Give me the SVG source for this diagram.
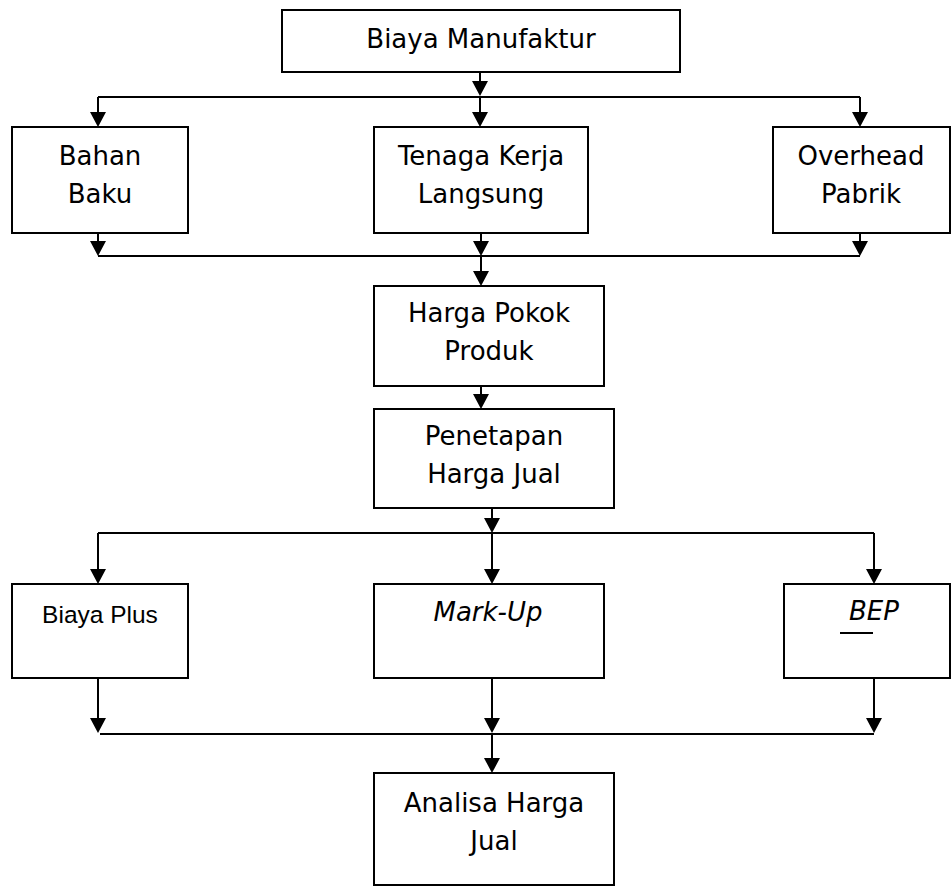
<svg xmlns="http://www.w3.org/2000/svg" width="952" height="891" viewBox="0 0 952 891">
<style>
.box{fill:#fff;stroke:#000;stroke-width:2}
.t{font-family:"DejaVu Sans",Verdana,sans-serif;font-size:26px;fill:#000;text-anchor:middle}
.c{font-family:"Liberation Sans",Arial,sans-serif;font-size:24.5px;fill:#000;text-anchor:middle}
.i{font-style:italic}
.ln{stroke:#000;stroke-width:2;fill:none}
.hd{fill:#000}
</style>
<g id="connectors">
<line class="ln" x1="480" y1="72" x2="480" y2="82"/>
<path class="hd" d="M472,81 L488,81 L480,96 Z"/>
<line class="ln" x1="98" y1="97" x2="860" y2="97"/>
<line class="ln" x1="480" y1="97" x2="480" y2="113"/>
<path class="hd" d="M472,112 L488,112 L480,127 Z"/>
<line class="ln" x1="98" y1="97" x2="98" y2="113"/>
<path class="hd" d="M90,112 L106,112 L98,127 Z"/>
<line class="ln" x1="860" y1="97" x2="860" y2="113"/>
<path class="hd" d="M852,112 L868,112 L860,127 Z"/>
<line class="ln" x1="98" y1="233" x2="98" y2="242"/>
<path class="hd" d="M90,241 L106,241 L98,256 Z"/>
<line class="ln" x1="481" y1="233" x2="481" y2="242"/>
<path class="hd" d="M473,241 L489,241 L481,256 Z"/>
<line class="ln" x1="860" y1="233" x2="860" y2="242"/>
<path class="hd" d="M852,241 L868,241 L860,256 Z"/>
<line class="ln" x1="98" y1="256" x2="860" y2="256"/>
<line class="ln" x1="481" y1="256" x2="481" y2="272"/>
<path class="hd" d="M473,271 L489,271 L481,286 Z"/>
<line class="ln" x1="481" y1="386" x2="481" y2="395"/>
<path class="hd" d="M473,394 L489,394 L481,409 Z"/>
<line class="ln" x1="492" y1="508" x2="492" y2="519"/>
<path class="hd" d="M484,518 L500,518 L492,533 Z"/>
<line class="ln" x1="98" y1="533" x2="874" y2="533"/>
<line class="ln" x1="98" y1="533" x2="98" y2="570"/>
<path class="hd" d="M90,569 L106,569 L98,584 Z"/>
<line class="ln" x1="492" y1="533" x2="492" y2="570"/>
<path class="hd" d="M484,569 L500,569 L492,584 Z"/>
<line class="ln" x1="874" y1="533" x2="874" y2="570"/>
<path class="hd" d="M866,569 L882,569 L874,584 Z"/>
<line class="ln" x1="98" y1="678" x2="98" y2="719"/>
<path class="hd" d="M90,718 L106,718 L98,733 Z"/>
<line class="ln" x1="492" y1="678" x2="492" y2="719"/>
<path class="hd" d="M484,718 L500,718 L492,733 Z"/>
<line class="ln" x1="874" y1="678" x2="874" y2="719"/>
<path class="hd" d="M866,718 L882,718 L874,733 Z"/>
<line class="ln" x1="100" y1="734" x2="874" y2="734"/>
<line class="ln" x1="492" y1="734" x2="492" y2="759"/>
<path class="hd" d="M484,758 L500,758 L492,773 Z"/>
</g>
<g id="biaya-manufaktur">
<rect class="box" x="282" y="10" width="398" height="62"/>
<text class="t" x="481" y="48">Biaya Manufaktur</text>
</g>
<g id="bahan-baku">
<rect class="box" x="12" y="127" width="176" height="106"/>
<text class="t" x="100" y="165">Bahan</text>
<text class="t" x="100" y="203">Baku</text>
</g>
<g id="tenaga-kerja">
<rect class="box" x="374" y="127" width="214" height="106"/>
<text class="t" x="481" y="165">Tenaga Kerja</text>
<text class="t" x="481" y="203">Langsung</text>
</g>
<g id="overhead-pabrik">
<rect class="box" x="773" y="127" width="177" height="106"/>
<text class="t" x="861" y="165">Overhead</text>
<text class="t" x="861" y="203">Pabrik</text>
</g>
<g id="harga-pokok">
<rect class="box" x="374" y="286" width="230" height="100"/>
<text class="t" x="489" y="322">Harga Pokok</text>
<text class="t" x="489" y="360">Produk</text>
</g>
<g id="penetapan">
<rect class="box" x="374" y="409" width="240" height="99"/>
<text class="t" x="494" y="445">Penetapan</text>
<text class="t" x="494" y="483">Harga Jual</text>
</g>
<g id="biaya-plus">
<rect class="box" x="12" y="584" width="176" height="94"/>
<text class="c" x="100" y="623">Biaya Plus</text>
</g>
<g id="mark-up">
<rect class="box" x="374" y="584" width="230" height="94"/>
<text class="t i" x="488" y="621">Mark-Up</text>
</g>
<g id="bep">
<rect class="box" x="784" y="584" width="166" height="94"/>
<text class="t i" x="874" y="620">BEP</text>
<line class="ln" x1="840" y1="633" x2="873" y2="633"/>
</g>
<g id="analisa">
<rect class="box" x="374" y="773" width="240" height="112"/>
<text class="t" x="494" y="812">Analisa Harga</text>
<text class="t" x="494" y="850">Jual</text>
</g>
</svg>
